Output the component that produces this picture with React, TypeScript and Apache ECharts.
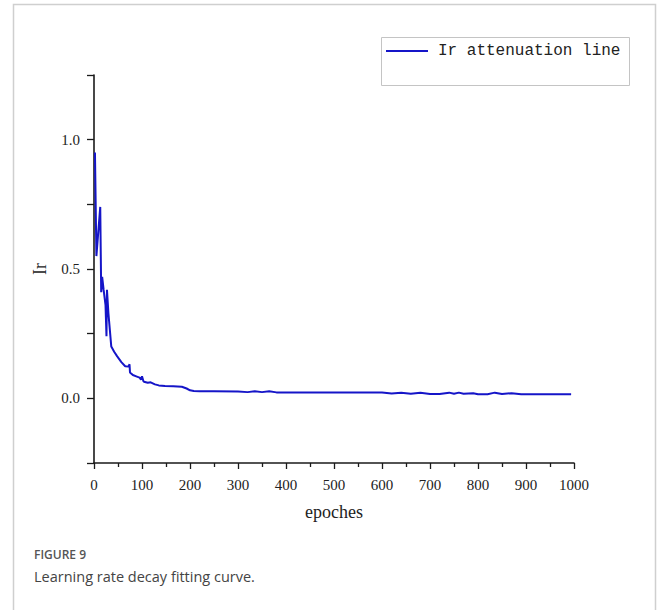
import React, { useEffect, useRef } from "react";
import * as echarts from "echarts";

const epochs = [2, 5, 13, 15, 17, 20, 24, 26, 27, 30, 36, 42, 48, 57, 65, 72, 74, 75, 81, 88, 95, 98, 100, 103, 106, 112, 118, 127, 135, 148, 165, 183, 193, 200, 208, 220, 250, 300, 320, 335, 350, 365, 380, 450, 520, 600, 620, 640, 660, 680, 700, 720, 740, 750, 760, 770, 790, 800, 820, 835, 850, 870, 890, 950, 994];
const lr = [0.95, 0.55, 0.74, 0.41, 0.47, 0.42, 0.36, 0.24, 0.42, 0.33, 0.2, 0.18, 0.163, 0.14, 0.124, 0.123, 0.132, 0.1, 0.09, 0.085, 0.08, 0.072, 0.085, 0.066, 0.063, 0.06, 0.062, 0.054, 0.05, 0.048, 0.047, 0.045, 0.038, 0.031, 0.028, 0.027, 0.027, 0.026, 0.024, 0.027, 0.024, 0.027, 0.023, 0.023, 0.023, 0.023, 0.019, 0.022, 0.018, 0.022, 0.017, 0.017, 0.022, 0.018, 0.022, 0.018, 0.02, 0.016, 0.016, 0.022, 0.017, 0.02, 0.016, 0.016, 0.016];

const xTicks = [0, 1000, 100];
const yTicks = [-0.25, 1.25, 0.25];
const seriesName = "Ir attenuation line";
const captionTitle = "FIGURE 9";
const captionText = "Learning rate decay fitting curve.";

export default function App() {
  const ref = useRef<HTMLDivElement>(null);
  useEffect(() => {
    if (!ref.current) return;
    const chart = echarts.init(ref.current, null, { renderer: "svg" });
    const serif = "'Liberation Serif', 'DejaVu Serif', serif";
    chart.setOption({
      animation: false,
      backgroundColor: "#ffffff",
      grid: { left: 94, right: 83, top: 75, bottom: 147, containLabel: false },
      xAxis: {
        type: "value",
        min: xTicks[0],
        max: xTicks[1],
        interval: xTicks[2],
        name: "epoches",
        nameLocation: "middle",
        nameGap: 40,
        nameTextStyle: { fontFamily: serif, fontSize: 18, color: "#222" },
        axisLine: { show: true, onZero: false, lineStyle: { color: "#1a1a1a", width: 1.6 } },
        axisTick: { show: true, inside: false, length: 6, lineStyle: { color: "#1a1a1a", width: 1.3 } },
        minorTick: { show: true, splitNumber: 2, length: 4, lineStyle: { color: "#1a1a1a", width: 1.3 } },
        axisLabel: { fontFamily: serif, fontSize: 15, color: "#222", margin: 14, formatter: (v: number) => String(v) },
        splitLine: { show: false },
      },
      yAxis: {
        type: "value",
        min: yTicks[0],
        max: yTicks[1],
        interval: yTicks[2],
        name: "Ir",
        nameLocation: "middle",
        nameGap: 45,
        nameTextStyle: { fontFamily: serif, fontSize: 18, color: "#222" },
        axisLine: { show: true, onZero: false, lineStyle: { color: "#1a1a1a", width: 1.6 } },
        axisTick: { show: true, inside: false, length: 7, lineStyle: { color: "#1a1a1a", width: 1.3 } },
        axisLabel: {
          fontFamily: serif,
          fontSize: 15,
          color: "#222",
          margin: 14,
          formatter: (v: number) => {
            const r = Math.round(v * 100) / 100;
            if (Math.abs(r * 2 - Math.round(r * 2)) < 1e-6 && r >= 0) return r.toFixed(1);
            return "";
          },
        },
        splitLine: { show: false },
      },
      legend: {
        left: 381,
        top: 38,
        icon: "rect",
        itemWidth: 42,
        itemHeight: 2,
        itemGap: 10,
        textStyle: { fontFamily: "'Liberation Mono', 'DejaVu Sans Mono', monospace", fontSize: 16, color: "#222", padding: [0, 0, 0, 5] },
        data: [seriesName],
      },
      graphic: [
        { type: "rect", left: 11, top: 2, shape: { width: 642, height: 620 }, style: { fill: "none", stroke: "#cfcfcf", lineWidth: 1.5 }, silent: true, z: -1 },
        { type: "rect", left: 379, top: 35, shape: { width: 248, height: 48 }, style: { fill: "none", stroke: "#c4c4c4", lineWidth: 1 }, silent: true },
        { type: "text", left: 34, top: 548, style: { text: captionTitle, fontFamily: "'Open Sans', 'Noto Sans', sans-serif", fontWeight: 600, fontSize: 12, fill: "#555" } },
        { type: "text", left: 34, top: 569, style: { text: captionText, fontFamily: "'Open Sans', 'Noto Sans', sans-serif", fontSize: 14.5, fill: "#444" } },
      ],
      series: [
        {
          name: seriesName,
          type: "line",
          data: epochs.map((e, i) => [e, lr[i]]),
          showSymbol: false,
          smooth: false,
          lineStyle: { color: "#1515c8", width: 2 },
          itemStyle: { color: "#1515c8" },
        },
      ],
    });
    return () => chart.dispose();
  }, []);
  return <div ref={ref} style={{ position: "fixed", left: 0, top: 0, width: 657, height: 610 }} />;
}
